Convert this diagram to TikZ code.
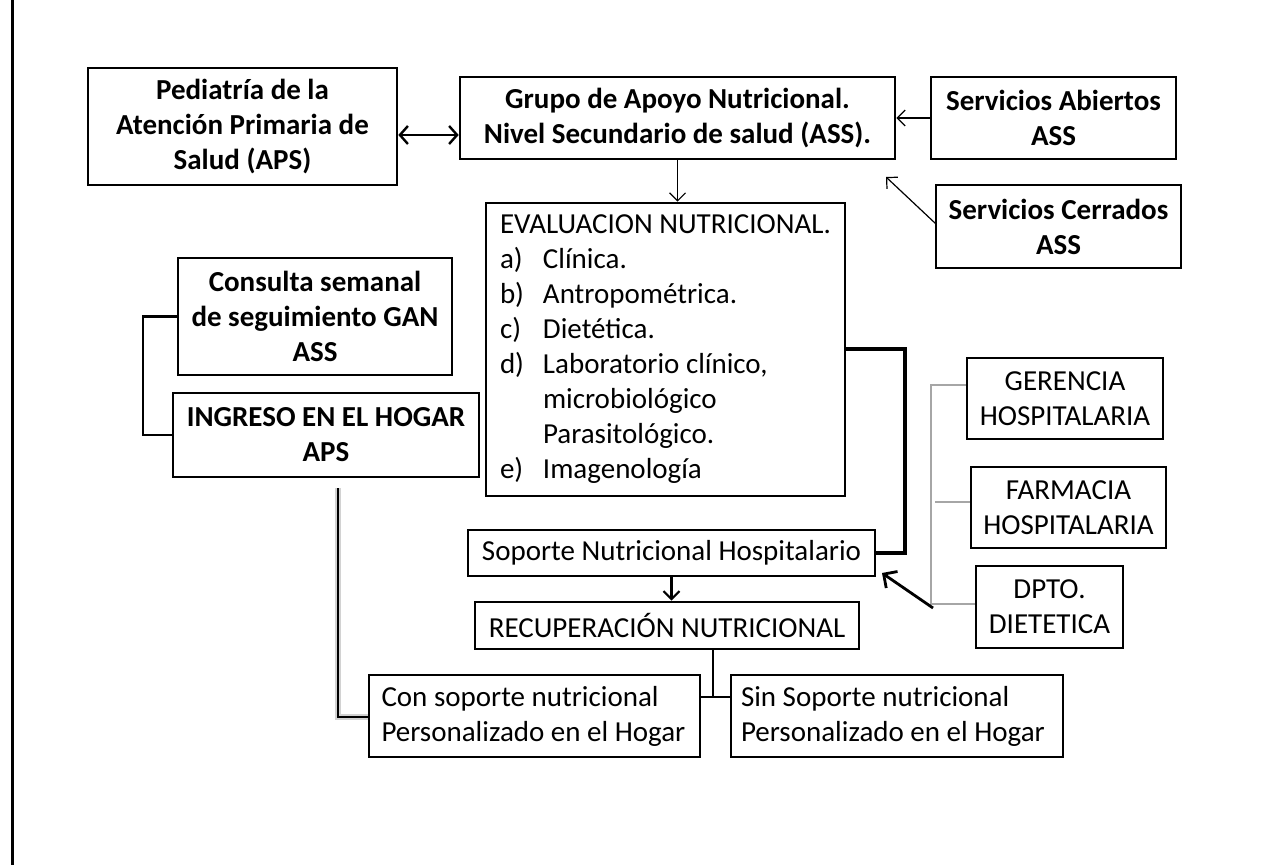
\documentclass[tikz,border=0pt]{standalone}
\usepackage{fontspec}
\setmainfont{Carlito}
\usetikzlibrary{arrows.meta}
\begin{document}
\begin{tikzpicture}[x=0.5pt,y=-0.5pt,
  box/.style={draw, line width=1.3pt, inner sep=0pt, align=center, font=\fontsize{14.5pt}{17.5pt}\selectfont},
  bbox/.style={box, font=\fontsize{14.5pt}{17.5pt}\selectfont\bfseries},
  thinarrow/.style={line width=0.6pt, -{Straight Barb[length=4pt, width=8pt]}},
  medarrow/.style={line width=1.1pt, -{Straight Barb[length=4pt, width=8pt]}},
  bigarrow/.style={line width=1.4pt, -{Straight Barb[length=5pt, width=10pt]}},
  biline/.style={line width=1.2pt, {Straight Barb[length=4pt, width=9pt]}-{Straight Barb[length=4pt, width=9pt]}},
  heavy/.style={line width=2pt},
  link/.style={line width=1.2pt},
  greyline/.style={line width=0.6pt, gray!70},
  shadowline/.style={line width=0.9pt, black, preaction={draw, gray!35, line width=3pt}}
]
\useasboundingbox (0,0) rectangle (1262,865);
\fill[white] (0,0) rectangle (1262,865);
\coordinate (ftop) at (12,0);
\coordinate (fbot) at (12,865);
\draw[line width=1.5pt] (ftop) -- (fbot);

\node[bbox, minimum width=154.5pt, minimum height=58.5pt] (ped) at (242.5,126.5) {Pediatría de la\\Atención Primaria de\\Salud (APS)};
\node[bbox, minimum width=217.5pt, minimum height=41pt] (grupo) at (677.5,118) {Grupo de Apoyo Nutricional.\\Nivel Secundario de salud (ASS).};
\node[bbox, minimum width=122.5pt, minimum height=41pt] (abi) at (1053.5,118) {Servicios Abiertos\\ASS};
\node[bbox, minimum width=122.5pt, minimum height=41.5pt] (cer) at (1058.5,226.5) {Servicios Cerrados\\ASS};
\node[box, minimum width=179.5pt, minimum height=146.5pt, text width=165.5pt, align=flush left] (eval) at (665.5,349.5) {EVALUACION NUTRICIONAL.\\
\makebox[21.5pt][l]{a)}Clínica.\\
\makebox[21.5pt][l]{b)}Antropométrica.\\
\makebox[21.5pt][l]{c)}Dietética.\\
\makebox[21.5pt][l]{d)}Laboratorio clínico,\\
\hspace*{21.5pt}microbiológico\\
\hspace*{21.5pt}Parasitológico.\\
\makebox[21.5pt][l]{e)}Imagenología};
\node[bbox, minimum width=137pt, minimum height=58.5pt] (cons) at (315,316.5) {Consulta semanal\\de seguimiento GAN\\ASS};
\node[bbox, minimum width=153pt, minimum height=42pt] (ing) at (326,435) {INGRESO EN EL HOGAR\\APS};
\node[box, minimum width=203.5pt, minimum height=23pt] (sop) at (671.5,553) {Soporte Nutricional Hospitalario};
\node[box, minimum width=192pt, minimum height=23.5pt] (rec) at (667,625.5) {RECUPERACIÓN NUTRICIONAL};
\node[box, minimum width=165.5pt, minimum height=41pt, text width=153pt, align=flush left] (con) at (534.5,716) {Con soporte nutricional\\Personalizado en el Hogar};
\node[box, minimum width=166pt, minimum height=41pt, text width=156pt, align=flush left] (sin) at (897,716) {Sin Soporte nutricional\\Personalizado en el Hogar};
\node[box, minimum width=98pt, minimum height=40.5pt] (ger) at (1065,398.5) {GERENCIA\\HOSPITALARIA};
\node[box, minimum width=97.5pt, minimum height=40.5pt] (far) at (1068.5,507.5) {FARMACIA\\HOSPITALARIA};
\node[box, minimum width=73.5pt, minimum height=41pt] (dpt) at (1049.5,607) {DPTO.\\DIETETICA};

% connectors
\coordinate (dy) at (430,135);
\draw[biline] (ped.east |- dy) -- (grupo.west |- dy);
\draw[thinarrow] (abi.west) -- (grupo.east);
\coordinate (cerS) at (936,224);
\coordinate (cerE) at (886,177);
\draw[thinarrow] (cerS) -- (cerE);
\draw[thinarrow] (grupo.south) -- (grupo.south |- eval.north);
\draw[heavy] (eval.east) -- ++(59,0) |- (sop.east);
\draw[medarrow] (sop.south) -- (sop.south |- rec.north);
\coordinate (j) at (713,697);
\draw[link] (rec.south -| j) -- (j);
\draw[link] (con.east |- j) -- (sin.west |- j);
\draw[link] (cons.west) -- ++(-34,0) |- (ing.west);
\coordinate (gtop) at (338,488);
\coordinate (gcorner) at (338,717);
\draw[shadowline] (gtop) -- (gcorner) -- (con.west |- gcorner);
% grey bracket
\coordinate (gb1) at (931,385);
\coordinate (gb2) at (935,502);
\coordinate (gb3) at (931,604);
\draw[greyline] (ger.west |- gb1) -- (gb1) -- (gb3) -- (dpt.west |- gb3);
\draw[greyline] (gb2) -- (far.west |- gb2);
\coordinate (dA) at (933,608);
\coordinate (dB) at (882,573);
\draw[bigarrow] (dA) -- (dB);
\end{tikzpicture}
\end{document}
